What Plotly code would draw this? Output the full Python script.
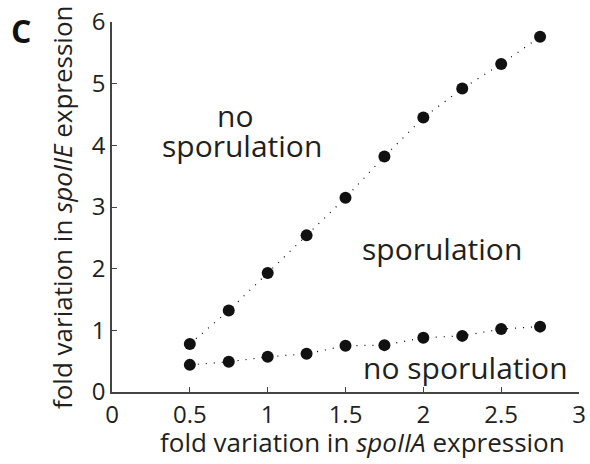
import plotly.graph_objects as go

spoIIA = [0.5, 0.75, 1.0, 1.25, 1.5, 1.75, 2.0, 2.25, 2.5, 2.75]
upper_boundary = [0.78, 1.32, 1.93, 2.54, 3.15, 3.82, 4.45, 4.92, 5.32, 5.76]
lower_boundary = [0.44, 0.49, 0.57, 0.62, 0.75, 0.76, 0.88, 0.91, 1.02, 1.06]
x_ticks = [0, 0.5, 1, 1.5, 2, 2.5, 3]
x_ticklabels = ["0", "0.5", "1", "1.5", "2", "2.5", "3"]
y_ticks = [0, 1, 2, 3, 4, 5, 6]

FONT = "Open Sans"
TXT = "#231f20"
fig = go.Figure()
for ys in (upper_boundary, lower_boundary):
    fig.add_trace(go.Scatter(
        x=spoIIA, y=ys, mode="lines+markers",
        line=dict(color="black", width=1.2, dash="1px,7px"),
        marker=dict(color="#111", size=12),
        showlegend=False, hoverinfo="skip", cliponaxis=False))

ann = dict(showarrow=False, font=dict(family=FONT, size=30, color=TXT))
fig.add_annotation(x=0.79, y=4.48, text="no", **ann)
fig.add_annotation(x=0.835, y=3.99, text="sporulation", **ann)
fig.add_annotation(x=2.12, y=2.32, text="sporulation", **ann)
fig.add_annotation(x=2.27, y=0.40, text="no sporulation", **ann)
fig.add_annotation(xref="paper", yref="paper", x=-0.195, y=0.978, xanchor="center", yanchor="middle",
                   text="<b>C</b>", showarrow=False, font=dict(family=FONT, size=32, color="#111"))
# axis titles
fig.add_annotation(xref="paper", yref="paper", x=0.537, y=-0.135, xanchor="center", yanchor="middle",
                   text="fold variation in <i>spoIIA</i> expression", showarrow=False,
                   font=dict(family=FONT, size=26, color=TXT))
fig.add_annotation(xref="paper", yref="paper", x=-0.107, y=0.5, xanchor="center", yanchor="middle",
                   textangle=-90, text="fold variation in <i>spoIIE</i> expression", showarrow=False,
                   font=dict(family=FONT, size=26, color=TXT))

axis_common = dict(showline=True, linecolor="#444", linewidth=1.5, ticks="inside", ticklen=5,
                   tickcolor="#444", showgrid=False, zeroline=False, automargin=False,
                   tickfont=dict(family=FONT, size=24, color=TXT), mirror=False)
fig.update_xaxes(range=[0, 3], tickvals=x_ticks, ticktext=x_ticklabels, **axis_common)
fig.update_yaxes(range=[0, 6], tickvals=y_ticks, **axis_common)
fig.update_layout(width=590, height=464, margin=dict(l=112, r=11, t=22, b=72),
                  plot_bgcolor="white", paper_bgcolor="white")
fig.write_html("out.html", config={"displayModeBar": False},
               post_script="document.body.style.margin='0';document.body.style.overflow='hidden';"
                           "document.documentElement.style.overflow='hidden';")
